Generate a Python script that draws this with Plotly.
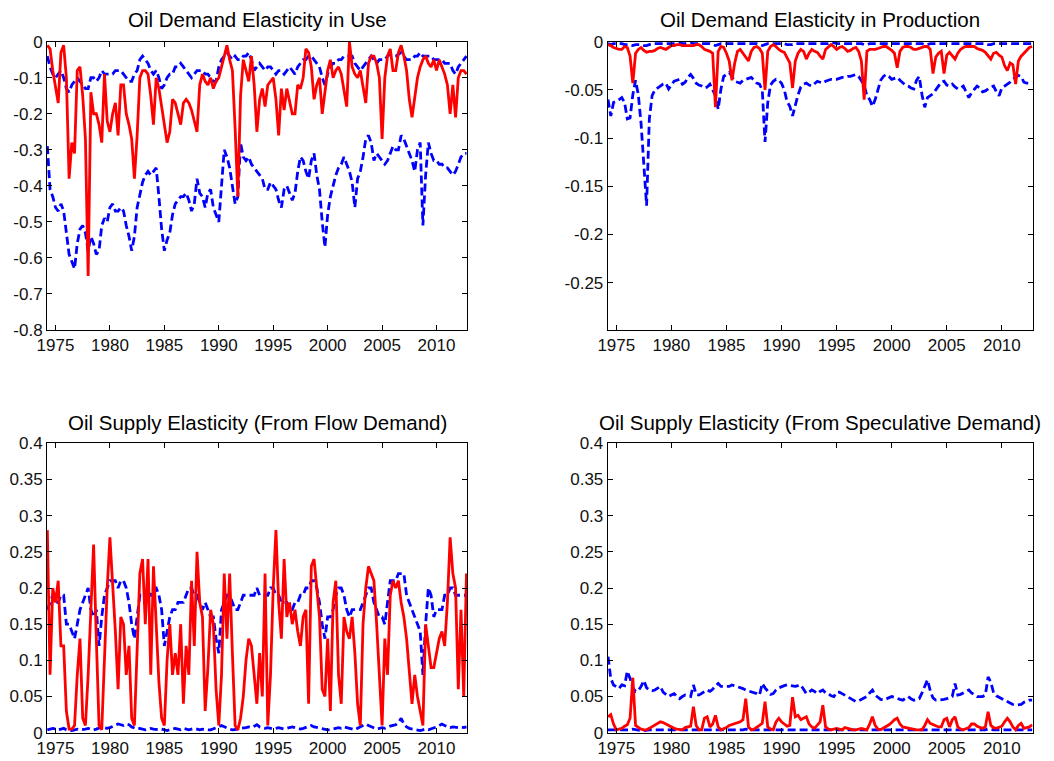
import numpy as np
import plotly.graph_objects as go

# ---------------- data (quarterly, first value = 1974.25) ----------------
START = 1974.25
STEP = 0.25

years_ticks = [1975, 1980, 1985, 1990, 1995, 2000, 2005, 2010]

titles = [
    "Oil Demand Elasticity in Use",
    "Oil Demand Elasticity in Production",
    "Oil Supply Elasticity (From Flow Demand)",
    "Oil Supply Elasticity (From Speculative Demand)",
]

# Panel 1: demand elasticity in use
use_est = [
    -0.01, -0.02, -0.08, -0.12, -0.17, -0.03, -0.01, -0.10,
    -0.38, -0.28, -0.31, -0.08, -0.07, -0.15, -0.27, -0.65,
    -0.14, -0.20, -0.20, -0.23, -0.28, -0.09, -0.22, -0.25,
    -0.20, -0.17, -0.26, -0.12, -0.12, -0.20, -0.23, -0.27,
    -0.38, -0.26, -0.10, -0.08, -0.08, -0.09, -0.15, -0.23,
    -0.10, -0.13, -0.18, -0.24, -0.28, -0.25, -0.16, -0.17,
    -0.20, -0.23, -0.17, -0.16, -0.17, -0.19, -0.22, -0.25,
    -0.12, -0.09, -0.11, -0.12, -0.10, -0.13, -0.11, -0.10,
    -0.07, -0.04, -0.01, -0.05, -0.08, -0.24, -0.43, -0.15,
    -0.05, -0.08, -0.11, -0.04, -0.12, -0.25, -0.16, -0.13,
    -0.18, -0.12, -0.11, -0.10, -0.16, -0.26, -0.13, -0.19,
    -0.13, -0.17, -0.20, -0.20, -0.12, -0.13, -0.10, -0.02,
    -0.03, -0.07, -0.16, -0.12, -0.10, -0.20, -0.14, -0.08,
    -0.05, -0.10, -0.08, -0.07, -0.09, -0.14, -0.18, 0.00,
    -0.07, -0.09, -0.10, -0.08, -0.12, -0.17, -0.06, -0.04,
    -0.04, -0.06, -0.10, -0.27, -0.10, -0.04, -0.02, -0.08,
    -0.08, -0.03, -0.01, -0.04, -0.08, -0.16, -0.21, -0.16,
    -0.10, -0.07, -0.05, -0.04, -0.06, -0.07, -0.05, -0.08,
    -0.05, -0.07, -0.09, -0.12, -0.20, -0.12, -0.21, -0.10,
    -0.08, -0.08, -0.09,
]
use_hi = [
    -0.04, -0.07, -0.09, -0.10, -0.09, -0.08, -0.10, -0.13,
    -0.14, -0.12, -0.11, -0.10, -0.11, -0.12, -0.13, -0.13,
    -0.10, -0.10, -0.11, -0.10, -0.08, -0.09, -0.09, -0.09,
    -0.09, -0.08, -0.08, -0.08, -0.09, -0.10, -0.11, -0.11,
    -0.09, -0.08, -0.05, -0.04, -0.05, -0.06, -0.08, -0.09,
    -0.08, -0.10, -0.13, -0.12, -0.10, -0.09, -0.09, -0.07,
    -0.07, -0.06, -0.07, -0.08, -0.09, -0.10, -0.09, -0.08,
    -0.08, -0.08, -0.09, -0.09, -0.10, -0.11, -0.11, -0.07,
    -0.05, -0.04, -0.03, -0.04, -0.05, -0.04, -0.05, -0.05,
    -0.04, -0.04, -0.03, -0.05, -0.08, -0.07, -0.06, -0.07,
    -0.08, -0.07, -0.07, -0.08, -0.09, -0.08, -0.08, -0.09,
    -0.08, -0.07, -0.08, -0.09, -0.07, -0.06, -0.05, -0.05,
    -0.04, -0.04, -0.05, -0.06, -0.07, -0.10, -0.12, -0.09,
    -0.07, -0.06, -0.06, -0.05, -0.05, -0.04, -0.04, -0.04,
    -0.04, -0.06, -0.07, -0.08, -0.07, -0.06, -0.05, -0.04,
    -0.05, -0.06, -0.05, -0.05, -0.05, -0.04, -0.035, -0.04,
    -0.04, -0.035, -0.03, -0.04, -0.05, -0.05, -0.05, -0.04,
    -0.04, -0.03, -0.04, -0.04, -0.04, -0.04, -0.05, -0.05,
    -0.05, -0.05, -0.06, -0.06, -0.06, -0.08, -0.09, -0.07,
    -0.06, -0.05, -0.04,
]
use_lo = [
    -0.29, -0.41, -0.43, -0.46, -0.47, -0.45, -0.47, -0.53,
    -0.59, -0.61, -0.63, -0.56, -0.52, -0.51, -0.53, -0.58,
    -0.54, -0.56, -0.59, -0.58, -0.51, -0.49, -0.50, -0.46,
    -0.45, -0.47, -0.47, -0.46, -0.47, -0.51, -0.54, -0.58,
    -0.54, -0.46, -0.42, -0.39, -0.37, -0.36, -0.37, -0.36,
    -0.35, -0.43, -0.52, -0.58, -0.55, -0.53, -0.48, -0.45,
    -0.44, -0.43, -0.43, -0.42, -0.44, -0.47, -0.45, -0.38,
    -0.42, -0.43, -0.46, -0.42, -0.41, -0.46, -0.48, -0.50,
    -0.40, -0.30, -0.32, -0.35, -0.40, -0.45, -0.43, -0.28,
    -0.32, -0.33, -0.32, -0.34, -0.35, -0.36, -0.37, -0.38,
    -0.41, -0.41, -0.39, -0.40, -0.41, -0.44, -0.46, -0.41,
    -0.40, -0.42, -0.44, -0.42, -0.36, -0.32, -0.33, -0.36,
    -0.38, -0.33, -0.31, -0.37, -0.41, -0.50, -0.57, -0.48,
    -0.43, -0.40, -0.37, -0.35, -0.34, -0.32, -0.34, -0.36,
    -0.39, -0.46, -0.38, -0.36, -0.32, -0.27, -0.26, -0.28,
    -0.33, -0.31, -0.32, -0.33, -0.34, -0.33, -0.31, -0.29,
    -0.30, -0.30, -0.26, -0.27, -0.29, -0.31, -0.33, -0.36,
    -0.30, -0.28, -0.51, -0.37, -0.28, -0.31, -0.33, -0.33,
    -0.34, -0.34, -0.35, -0.35, -0.36, -0.37, -0.36, -0.34,
    -0.32, -0.31, -0.31,
]

# Panel 2: demand elasticity in production
prod_est = [
    -0.003, -0.004, -0.006, -0.007, -0.008, -0.008, -0.005, -0.006,
    -0.015, -0.043, -0.012, -0.008, -0.006, -0.009, -0.011, -0.010,
    -0.010, -0.009, -0.007, -0.006, -0.007, -0.008, -0.006, -0.004,
    -0.004, -0.003, -0.003, -0.004, -0.004, -0.004, -0.004, -0.004,
    -0.003, -0.003, -0.005, -0.008, -0.009, -0.010, -0.012, -0.068,
    -0.010, -0.005, -0.006, -0.012, -0.020, -0.040, -0.022, -0.010,
    -0.008, -0.012, -0.016, -0.020, -0.010, -0.006, -0.005, -0.007,
    -0.012, -0.050, -0.010, -0.005, -0.003, -0.005, -0.008, -0.010,
    -0.011, -0.016, -0.022, -0.048, -0.020, -0.012, -0.008, -0.010,
    -0.018, -0.012, -0.008, -0.010, -0.011, -0.015, -0.018, -0.008,
    -0.005, -0.003, -0.005, -0.008, -0.006, -0.005, -0.007, -0.010,
    -0.009, -0.007, -0.006, -0.010, -0.020, -0.060, -0.010, -0.008,
    -0.008, -0.008, -0.007, -0.006, -0.005, -0.005, -0.007, -0.009,
    -0.012, -0.027, -0.010, -0.006, -0.005, -0.005, -0.006, -0.008,
    -0.008, -0.007, -0.006, -0.005, -0.005, -0.008, -0.033, -0.016,
    -0.012, -0.010, -0.033, -0.014, -0.011, -0.014, -0.018, -0.012,
    -0.008, -0.006, -0.005, -0.005, -0.005, -0.005, -0.007, -0.008,
    -0.009, -0.011, -0.014, -0.018, -0.012, -0.011, -0.014, -0.016,
    -0.025, -0.030, -0.022, -0.024, -0.044, -0.020, -0.015, -0.012,
    -0.008, -0.006, -0.005,
]
prod_hi = [
    -0.002, -0.003, -0.002, -0.002, -0.002, -0.002, -0.003, -0.003,
    -0.003, -0.004, -0.003, -0.003, -0.003, -0.004, -0.004, -0.003,
    -0.002, -0.002, -0.002, -0.002, -0.002, -0.002, -0.002, -0.002,
    -0.002, -0.001, -0.001, -0.002, -0.002, -0.001, -0.001, -0.002,
    -0.002, -0.002, -0.002, -0.002, -0.002, -0.002, -0.003, -0.004,
    -0.003, -0.002, -0.002, -0.002, -0.002, -0.002, -0.002, -0.002,
    -0.002, -0.002, -0.002, -0.002, -0.002, -0.002, -0.002, -0.003,
    -0.004, -0.003, -0.002, -0.002, -0.002, -0.002, -0.002, -0.002,
    -0.002, -0.003, -0.003, -0.003, -0.002, -0.002, -0.002, -0.002,
    -0.002, -0.002, -0.002, -0.002, -0.002, -0.002, -0.002, -0.002,
    -0.002, -0.001, -0.001, -0.002, -0.002, -0.002, -0.002, -0.002,
    -0.002, -0.002, -0.002, -0.002, -0.002, -0.003, -0.003, -0.002,
    -0.002, -0.002, -0.002, -0.002, -0.002, -0.002, -0.002, -0.002,
    -0.002, -0.002, -0.002, -0.002, -0.002, -0.002, -0.002, -0.002,
    -0.002, -0.002, -0.002, -0.003, -0.003, -0.002, -0.002, -0.002,
    -0.002, -0.002, -0.002, -0.002, -0.002, -0.002, -0.002, -0.002,
    -0.002, -0.002, -0.002, -0.002, -0.002, -0.002, -0.002, -0.002,
    -0.002, -0.002, -0.003, -0.003, -0.002, -0.002, -0.002, -0.002,
    -0.002, -0.002, -0.002, -0.002, -0.002, -0.002, -0.002, -0.002,
    -0.002, -0.002, -0.002,
]
prod_lo = [
    -0.060, -0.077, -0.063, -0.062, -0.060, -0.058, -0.063, -0.080,
    -0.079, -0.055, -0.040, -0.055, -0.085, -0.130, -0.170, -0.080,
    -0.056, -0.050, -0.048, -0.046, -0.044, -0.043, -0.049, -0.045,
    -0.041, -0.040, -0.039, -0.044, -0.042, -0.037, -0.034, -0.038,
    -0.043, -0.045, -0.046, -0.048, -0.047, -0.044, -0.050, -0.056,
    -0.070, -0.049, -0.036, -0.034, -0.032, -0.036, -0.041, -0.042,
    -0.043, -0.040, -0.039, -0.038, -0.037, -0.040, -0.043, -0.044,
    -0.050, -0.104, -0.063, -0.045, -0.041, -0.039, -0.040, -0.043,
    -0.050, -0.062, -0.067, -0.077, -0.065, -0.055, -0.047, -0.044,
    -0.043, -0.045, -0.046, -0.043, -0.041, -0.042, -0.043, -0.041,
    -0.040, -0.039, -0.039, -0.039, -0.038, -0.037, -0.037, -0.036,
    -0.036, -0.035, -0.034, -0.036, -0.040, -0.045, -0.056, -0.060,
    -0.067, -0.060, -0.050, -0.040, -0.036, -0.034, -0.036, -0.039,
    -0.038, -0.037, -0.040, -0.043, -0.045, -0.046, -0.048, -0.049,
    -0.040, -0.036, -0.055, -0.068, -0.058, -0.056, -0.054, -0.050,
    -0.046, -0.042, -0.041, -0.045, -0.046, -0.044, -0.047, -0.049,
    -0.048, -0.046, -0.052, -0.058, -0.053, -0.050, -0.046, -0.048,
    -0.052, -0.051, -0.049, -0.047, -0.046, -0.052, -0.056, -0.048,
    -0.046, -0.044, -0.042, -0.039, -0.037, -0.035, -0.036, -0.042,
    -0.043, -0.043, -0.042,
]

# Panel 3: supply elasticity (flow demand)
flow_est = [
    0.28, 0.08, 0.20, 0.18, 0.21, 0.12, 0.12, 0.03,
    0.005, 0.005, 0.01, 0.08, 0.13, 0.02, 0.01, 0.08,
    0.17, 0.26, 0.13, 0.01, 0.004, 0.11, 0.20, 0.27,
    0.21, 0.14, 0.06, 0.16, 0.15, 0.08, 0.12, 0.02,
    0.01, 0.12, 0.22, 0.24, 0.15, 0.24, 0.08, 0.23,
    0.14, 0.07, 0.02, 0.01, 0.10, 0.15, 0.08, 0.11,
    0.08, 0.15, 0.04, 0.12, 0.08, 0.21, 0.12, 0.25,
    0.18, 0.16, 0.03, 0.09, 0.17, 0.15, 0.06, 0.01,
    0.08, 0.22, 0.13, 0.22, 0.11, 0.01, 0.004, 0.02,
    0.05, 0.10, 0.13, 0.12, 0.08, 0.04, 0.11, 0.05,
    0.22, 0.01, 0.08, 0.20, 0.28, 0.18, 0.13, 0.24,
    0.16, 0.18, 0.15, 0.17, 0.14, 0.12, 0.16, 0.17,
    0.04, 0.23, 0.24, 0.20, 0.16, 0.06, 0.05, 0.13,
    0.03, 0.18, 0.21, 0.08, 0.04, 0.16, 0.14, 0.13,
    0.16, 0.11, 0.04, 0.01, 0.15, 0.20, 0.23, 0.22,
    0.21, 0.15, 0.07, 0.01, 0.13, 0.08, 0.19, 0.21,
    0.20, 0.21, 0.18, 0.16, 0.13, 0.08, 0.04, 0.08,
    0.05, 0.03, 0.01, 0.15, 0.12, 0.09, 0.09, 0.11,
    0.13, 0.14, 0.12, 0.18, 0.27, 0.22, 0.20, 0.06,
    0.17, 0.05, 0.22,
]
flow_hi = [
    0.17, 0.18, 0.19, 0.18, 0.18, 0.19, 0.19, 0.15,
    0.15, 0.14, 0.13, 0.15, 0.17, 0.18, 0.19, 0.20,
    0.17, 0.16, 0.17, 0.12, 0.16, 0.19, 0.20, 0.21,
    0.21, 0.21, 0.20, 0.21, 0.21, 0.20, 0.18, 0.15,
    0.13, 0.16, 0.19, 0.19, 0.19, 0.19, 0.19, 0.20,
    0.20, 0.19, 0.17, 0.12, 0.14, 0.16, 0.17, 0.17,
    0.18, 0.18, 0.18, 0.19, 0.20, 0.20, 0.19, 0.19,
    0.18, 0.17, 0.18, 0.17, 0.16, 0.16, 0.13, 0.11,
    0.17, 0.18, 0.19, 0.19, 0.18, 0.17, 0.17, 0.18,
    0.19, 0.19, 0.19, 0.19, 0.19, 0.20, 0.19, 0.19,
    0.19, 0.19, 0.20, 0.20, 0.19, 0.19, 0.18, 0.18,
    0.18, 0.17, 0.17, 0.18, 0.18, 0.19, 0.19, 0.20,
    0.20, 0.21, 0.21, 0.20, 0.18, 0.15, 0.13, 0.16,
    0.16, 0.17, 0.19, 0.20, 0.20, 0.19, 0.17, 0.16,
    0.17, 0.17, 0.17, 0.17, 0.18, 0.19, 0.20, 0.20,
    0.18, 0.17, 0.16, 0.16, 0.15, 0.18, 0.21, 0.21,
    0.21, 0.22, 0.22, 0.22, 0.19, 0.18, 0.17, 0.16,
    0.15, 0.14, 0.08, 0.15, 0.20, 0.19, 0.16, 0.17,
    0.17, 0.17, 0.19, 0.19, 0.20, 0.20, 0.19, 0.19,
    0.19, 0.19, 0.19,
]
flow_lo = [
    0.004, 0.005, 0.006, 0.005, 0.004, 0.005, 0.006, 0.004,
    0.003, 0.003, 0.004, 0.005, 0.004, 0.004, 0.005, 0.006,
    0.005, 0.004, 0.005, 0.006, 0.008, 0.007, 0.006, 0.007,
    0.009, 0.010, 0.012, 0.011, 0.010, 0.012, 0.011, 0.008,
    0.006, 0.005, 0.006, 0.005, 0.004, 0.005, 0.006, 0.005,
    0.004, 0.004, 0.005, 0.004, 0.003, 0.004, 0.005, 0.006,
    0.005, 0.004, 0.006, 0.005, 0.004, 0.005, 0.006, 0.005,
    0.004, 0.005, 0.004, 0.004, 0.004, 0.005, 0.006, 0.008,
    0.010, 0.008, 0.006, 0.005, 0.004, 0.004, 0.005, 0.006,
    0.006, 0.007, 0.008, 0.007, 0.009, 0.011, 0.008, 0.007,
    0.006, 0.007, 0.006, 0.005, 0.006, 0.007, 0.006, 0.005,
    0.006, 0.007, 0.008, 0.007, 0.006, 0.005, 0.006, 0.007,
    0.008, 0.010, 0.008, 0.007, 0.006, 0.005, 0.004, 0.004,
    0.004, 0.005, 0.006, 0.007, 0.006, 0.008, 0.007, 0.006,
    0.005, 0.004, 0.006, 0.008, 0.010, 0.012, 0.010, 0.008,
    0.006, 0.005, 0.006, 0.007, 0.006, 0.008, 0.009, 0.010,
    0.011, 0.014, 0.020, 0.012, 0.008, 0.006, 0.005, 0.004,
    0.004, 0.003, 0.004, 0.005, 0.004, 0.005, 0.006, 0.008,
    0.010, 0.012, 0.010, 0.008, 0.007, 0.008, 0.007, 0.007,
    0.008, 0.007, 0.008,
]

# Panel 4: supply elasticity (speculative demand)
spec_est = [
    0.022, 0.025, 0.012, 0.004, 0.005, 0.006, 0.009, 0.011,
    0.020, 0.076, 0.010, 0.007, 0.005, 0.004, 0.004, 0.006,
    0.008, 0.010, 0.012, 0.015, 0.014, 0.012, 0.009, 0.007,
    0.006, 0.005, 0.004, 0.004, 0.007, 0.008, 0.009, 0.036,
    0.010, 0.004, 0.004, 0.020, 0.022, 0.008, 0.012, 0.024,
    0.008, 0.004, 0.005, 0.007, 0.010, 0.011, 0.012, 0.013,
    0.015, 0.018, 0.047, 0.008, 0.004, 0.005, 0.007, 0.010,
    0.013, 0.043, 0.008, 0.005, 0.004, 0.015, 0.020, 0.015,
    0.012, 0.009, 0.010, 0.049, 0.022, 0.024, 0.018, 0.020,
    0.022, 0.012, 0.008, 0.006, 0.010, 0.015, 0.038, 0.008,
    0.005, 0.004, 0.005, 0.006, 0.005, 0.004, 0.007, 0.006,
    0.004, 0.004, 0.004, 0.005, 0.006, 0.005, 0.004, 0.012,
    0.022, 0.010, 0.005, 0.004, 0.006, 0.008, 0.011, 0.014,
    0.018, 0.020, 0.012, 0.008, 0.007, 0.006, 0.005, 0.004,
    0.004, 0.004, 0.004, 0.010, 0.018, 0.013, 0.011, 0.009,
    0.008, 0.008, 0.018, 0.020, 0.008, 0.018, 0.022, 0.008,
    0.005, 0.004, 0.005, 0.007, 0.012, 0.012, 0.009, 0.007,
    0.006, 0.008, 0.029, 0.010, 0.007, 0.006, 0.007, 0.009,
    0.015, 0.020, 0.015, 0.008, 0.004, 0.010, 0.013, 0.006,
    0.007, 0.008, 0.011,
]
spec_hi = [
    0.105, 0.075, 0.066, 0.063, 0.061, 0.066, 0.065, 0.085,
    0.075, 0.062, 0.057, 0.058, 0.064, 0.072, 0.062, 0.059,
    0.058, 0.059, 0.062, 0.064, 0.056, 0.053, 0.050, 0.052,
    0.054, 0.050, 0.047, 0.050, 0.052, 0.051, 0.050, 0.066,
    0.053, 0.052, 0.054, 0.057, 0.059, 0.057, 0.060, 0.065,
    0.068, 0.064, 0.064, 0.063, 0.064, 0.066, 0.065, 0.064,
    0.062, 0.061, 0.059, 0.058, 0.057, 0.055, 0.054, 0.052,
    0.068, 0.062, 0.058, 0.053, 0.054, 0.059, 0.062, 0.064,
    0.065, 0.066, 0.065, 0.064, 0.064, 0.065, 0.066, 0.060,
    0.054, 0.056, 0.059, 0.057, 0.054, 0.057, 0.059, 0.055,
    0.054, 0.051, 0.050, 0.056, 0.056, 0.054, 0.052, 0.050,
    0.047, 0.045, 0.043, 0.044, 0.046, 0.048, 0.050, 0.055,
    0.059, 0.052, 0.049, 0.046, 0.045, 0.047, 0.048, 0.050,
    0.049, 0.047, 0.046, 0.045, 0.048, 0.050, 0.047, 0.045,
    0.046, 0.047, 0.055, 0.065, 0.073, 0.058, 0.048, 0.045,
    0.045, 0.045, 0.046, 0.047, 0.048, 0.050, 0.068, 0.052,
    0.053, 0.055, 0.057, 0.059, 0.055, 0.052, 0.050, 0.050,
    0.050, 0.052, 0.077, 0.070, 0.055, 0.051, 0.049, 0.046,
    0.045, 0.043, 0.041, 0.039, 0.038, 0.038, 0.039, 0.042,
    0.044, 0.045, 0.045,
]
spec_lo = [
    0.004, 0.004, 0.004, 0.003, 0.003, 0.004, 0.004, 0.004,
    0.004, 0.005, 0.004, 0.004, 0.003, 0.003, 0.004, 0.004,
    0.004, 0.004, 0.004, 0.004, 0.004, 0.004, 0.004, 0.004,
    0.004, 0.003, 0.003, 0.004, 0.004, 0.004, 0.004, 0.004,
    0.004, 0.004, 0.004, 0.004, 0.004, 0.004, 0.004, 0.004,
    0.003, 0.003, 0.004, 0.004, 0.004, 0.004, 0.004, 0.004,
    0.004, 0.004, 0.005, 0.004, 0.004, 0.004, 0.004, 0.004,
    0.004, 0.004, 0.004, 0.004, 0.004, 0.004, 0.004, 0.004,
    0.004, 0.004, 0.004, 0.004, 0.004, 0.004, 0.004, 0.004,
    0.004, 0.004, 0.004, 0.004, 0.004, 0.004, 0.004, 0.004,
    0.003, 0.003, 0.004, 0.004, 0.004, 0.004, 0.004, 0.004,
    0.004, 0.004, 0.004, 0.004, 0.004, 0.004, 0.004, 0.004,
    0.004, 0.004, 0.004, 0.004, 0.004, 0.004, 0.004, 0.004,
    0.004, 0.004, 0.004, 0.004, 0.004, 0.004, 0.004, 0.004,
    0.004, 0.004, 0.004, 0.004, 0.004, 0.004, 0.004, 0.004,
    0.004, 0.004, 0.004, 0.004, 0.004, 0.004, 0.004, 0.004,
    0.004, 0.004, 0.004, 0.004, 0.004, 0.004, 0.004, 0.004,
    0.004, 0.004, 0.005, 0.004, 0.004, 0.004, 0.004, 0.004,
    0.004, 0.004, 0.004, 0.004, 0.004, 0.004, 0.004, 0.004,
    0.004, 0.004, 0.004,
]

# y-axis tick settings per panel
y_ticks_use = [0, -0.1, -0.2, -0.3, -0.4, -0.5, -0.6, -0.7, -0.8]
y_labels_use = ["0", "-0.1", "-0.2", "-0.3", "-0.4", "-0.5", "-0.6", "-0.7", "-0.8"]
y_ticks_prod = [0, -0.05, -0.1, -0.15, -0.2, -0.25]
y_labels_prod = ["0", "-0.05", "-0.1", "-0.15", "-0.2", "-0.25"]
y_ticks_sup = [0, 0.05, 0.1, 0.15, 0.2, 0.25, 0.3, 0.35, 0.4]
y_labels_sup = ["0", "0.05", "0.1", "0.15", "0.2", "0.25", "0.3", "0.35", "0.4"]

# ---------------- figure ----------------
W, H = 1054, 761
FONT = "Arial, 'Liberation Sans', Helvetica, sans-serif"
RED = "#ff0000"
BLUE = "#0000ff"


def dates(vals):
    return START + STEP * np.arange(len(vals))


# plot-area boxes in pixels: (left, right, top, bottom)
boxes = [
    (47, 467, 41.7, 330.0),
    (607.7, 1032.7, 41.7, 330.0),
    (47, 467, 443.3, 732.7),
    (607.7, 1032.7, 443.3, 732.7),
]
title_y_px = [20, 20, 422.5, 422.5]

panels = [
    (use_est, use_hi, use_lo, [-0.8, 0], y_ticks_use, y_labels_use),
    (prod_est, prod_hi, prod_lo, [-0.299, 0], y_ticks_prod, y_labels_prod),
    (flow_est, flow_hi, flow_lo, [0, 0.4], y_ticks_sup, y_labels_sup),
    (spec_est, spec_hi, spec_lo, [0, 0.4], y_ticks_sup, y_labels_sup),
]

fig = go.Figure()
layout = dict(
    width=W, height=H,
    autosize=False,
    margin=dict(l=0, r=0, t=0, b=0, pad=0),
    paper_bgcolor="white", plot_bgcolor="white",
    showlegend=False,
    font=dict(family=FONT, color="#111111"),
    annotations=[],
)

for i, (est, hi, lo, yr, ytv, ytt) in enumerate(panels):
    n = i + 1
    xa = "x" if n == 1 else f"x{n}"
    ya = "y" if n == 1 else f"y{n}"
    for vals in (hi, lo):
        fig.add_trace(go.Scatter(
            x=dates(vals), y=vals, mode="lines", xaxis=xa, yaxis=ya,
            line=dict(color=BLUE, width=2.8, dash="8px,4px"),
            hoverinfo="skip",
        ))
    fig.add_trace(go.Scatter(
        x=dates(est), y=est, mode="lines", xaxis=xa, yaxis=ya,
        line=dict(color=RED, width=2.8),
        hoverinfo="skip",
    ))

    l, r, t, b = boxes[i]
    axis_common = dict(
        showline=True, linecolor="black", linewidth=1, mirror="ticks",
        ticks="inside", ticklen=5, tickcolor="black", tickwidth=1,
        showgrid=False, zeroline=False, automargin=False,
        tickfont=dict(family=FONT, size=17, color="#111111"),
    )
    layout["xaxis" if n == 1 else f"xaxis{n}"] = dict(
        domain=[l / W, r / W], anchor=ya,
        range=[1974.22, 2012.8],
        tickvals=years_ticks, ticktext=[str(v) for v in years_ticks],
        **axis_common,
    )
    layout["yaxis" if n == 1 else f"yaxis{n}"] = dict(
        domain=[1 - b / H, 1 - t / H], anchor=xa,
        range=yr, tickvals=ytv, ticktext=ytt,
        **axis_common,
    )
    layout["annotations"].append(dict(
        text=titles[i], xref="paper", yref="paper",
        x=(l + r) / 2 / W, y=1 - title_y_px[i] / H,
        xanchor="center", yanchor="middle", showarrow=False,
        font=dict(family=FONT, size=20.5, color="black"),
    ))

fig.update_layout(**layout)
fig.write_html(
    "out.html",
    config={"displayModeBar": False, "staticPlot": True},
    post_script="document.body.style.margin='0';document.body.style.padding='0';"
                "document.documentElement.style.overflow='hidden';",
)
